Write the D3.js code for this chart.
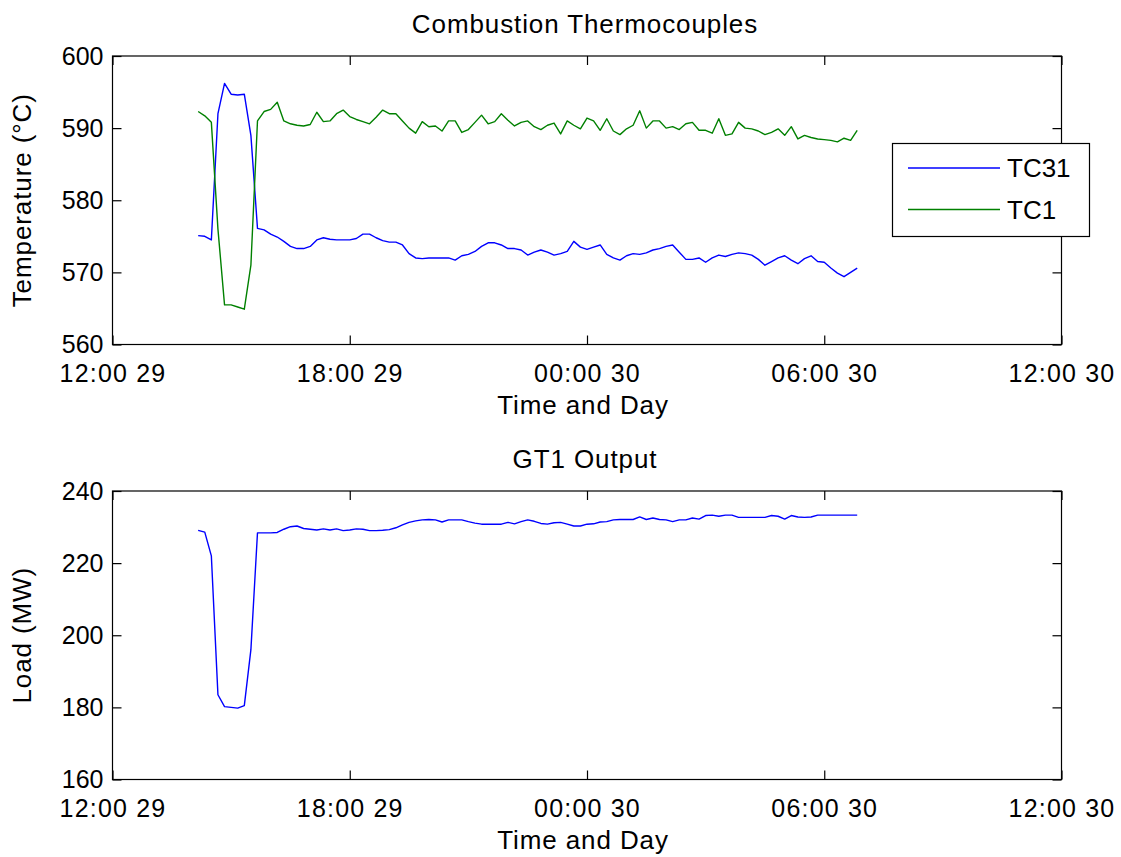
<!DOCTYPE html>
<html>
<head>
<meta charset="utf-8">
<script src="https://cdn.jsdelivr.net/npm/d3@7"></script>
<style>
  html, body { margin: 0; padding: 0; background: #fff; }
  svg text { font-family: "Liberation Sans", Arial, Helvetica, sans-serif; fill: #000; }
</style>
</head>
<body>
<svg id="fig" width="1121" height="857"></svg>
<script>
// Sampling: one reading every 10 minutes, 14:10 on the 29th to 06:50 on the 30th
const sampleStart = new Date(2011, 5, 29, 14, 10);
const sampleEnd = new Date(2011, 5, 30, 6, 50);
const sampleStepMinutes = 10;

// Time axis extent and tick positions
const axisStart = new Date(2011, 5, 29, 12, 0);
const axisEnd = new Date(2011, 5, 30, 12, 0);
const tickHours = 6;

// Combustion thermocouple readings (°C)
const tc31 = [
  575.1, 575.0, 574.5, 592.0, 596.2, 594.7, 594.6, 594.7, 589.0, 576.1,
  575.9, 575.3, 574.9, 574.3, 573.6, 573.3, 573.3, 573.6, 574.5, 574.8,
  574.6, 574.5, 574.5, 574.5, 574.7, 575.3, 575.3, 574.8, 574.4, 574.2,
  574.2, 573.8, 572.6, 572.0, 571.9, 572.0, 572.0, 572.0, 572.0, 571.7,
  572.3, 572.5, 572.9, 573.6, 574.1, 574.1, 573.8, 573.3, 573.3, 573.1,
  572.4, 572.8, 573.1, 572.8, 572.4, 572.6, 572.9, 574.3, 573.5, 573.2,
  573.5, 573.8, 572.5, 572.0, 571.7, 572.3, 572.6, 572.5, 572.7, 573.1,
  573.3, 573.6, 573.8, 572.8, 571.8, 571.8, 572.0, 571.4, 572.0, 572.4,
  572.2, 572.5, 572.7, 572.6, 572.4, 571.8, 571.0, 571.5, 572.0, 572.3,
  571.7, 571.2, 571.9, 572.3, 571.5, 571.4, 570.6, 569.9, 569.4, 570.0,
  570.6
];
const tc1 = [
  592.3, 591.7, 590.8, 576.0, 565.5, 565.5, 565.2, 564.9, 571.0, 591.0,
  592.3, 592.6, 593.6, 591.0, 590.6, 590.4, 590.3, 590.5, 592.2, 590.9,
  591.0, 592.0, 592.5, 591.6, 591.2, 590.9, 590.6, 591.5, 592.5, 592.0,
  592.0, 591.0, 590.0, 589.3, 590.9, 590.2, 590.3, 589.6, 591.0, 591.0,
  589.4, 589.8, 590.8, 591.8, 590.6, 590.9, 592.0, 591.1, 590.3, 590.8,
  591.0, 590.2, 589.8, 590.4, 590.7, 589.2, 591.0, 590.4, 589.9, 591.4,
  591.0, 589.7, 591.3, 589.6, 589.1, 589.9, 590.4, 592.4, 590.0, 591.0,
  591.0, 590.0, 590.2, 589.8, 590.6, 590.8, 589.7, 589.7, 589.3, 591.3,
  589.0, 589.2, 590.8, 590.0, 589.9, 589.6, 589.1, 589.4, 589.9, 589.0,
  590.2, 588.5, 589.0, 588.7, 588.5, 588.4, 588.3, 588.1, 588.6, 588.3,
  589.7
];

// GT1 electrical output (MW)
const gt1Load = [
  229.1, 228.6, 222.0, 183.5, 180.2, 180.0, 179.8, 180.5, 196.0, 228.4,
  228.4, 228.4, 228.5, 229.4, 230.1, 230.3, 229.6, 229.4, 229.2, 229.5,
  229.2, 229.5, 229.0, 229.2, 229.5, 229.4, 229.0, 229.0, 229.1, 229.3,
  229.8, 230.6, 231.3, 231.7, 232.0, 232.1, 232.0, 231.4, 232.0, 232.0,
  232.0, 231.5, 231.1, 230.8, 230.8, 230.8, 230.8, 231.3, 230.9, 231.5,
  232.0, 231.6, 231.0, 230.8, 231.2, 231.3, 230.8, 230.3, 230.3, 230.8,
  230.9, 231.4, 231.5, 232.0, 232.1, 232.1, 232.1, 232.8, 232.1, 232.5,
  232.1, 232.0, 231.5, 232.0, 232.0, 232.5, 232.2, 233.2, 233.3, 233.0,
  233.3, 233.3, 232.7, 232.7, 232.7, 232.7, 232.7, 233.2, 233.0, 232.2,
  233.2, 232.8, 232.7, 232.8, 233.3, 233.3, 233.3, 233.3, 233.3, 233.3,
  233.3
];

// Axis settings
const tempDomain = [560, 600];
const tempTicks = [560, 570, 580, 590, 600];
const loadDomain = [160, 240];
const loadTicks = [160, 180, 200, 220, 240];

const seriesTop = [
  { name: "TC31", values: tc31, color: "#0000ff" },
  { name: "TC1", values: tc1, color: "#008000" }
];

const times = d3.timeMinute.every(sampleStepMinutes).range(sampleStart, d3.timeMinute.offset(sampleEnd, 1));

const svg = d3.select("#fig");
const left = 112.5, right = 1061.5;
const fontSize = 26;
const tickFontSize = 25;
const spacing = "0.9px";
const tickLen = 9;

const x = d3.scaleTime().domain([axisStart, axisEnd]).range([left, right]);
const xTickValues = d3.timeHour.every(tickHours).range(axisStart, d3.timeMinute.offset(axisEnd, 1));
const fmt = d3.timeFormat("%H:%M %d");

function panel(top, bottom, domain, ticks, title, ylabel, series) {
  const y = d3.scaleLinear().domain(domain).range([bottom, top]);
  const g = svg.append("g");

  // plotted lines
  const line = d3.line().x((d, i) => x(times[i])).y(d => y(d));
  series.forEach(s => {
    g.append("path")
      .datum(s.values)
      .attr("fill", "none")
      .attr("stroke", s.color)
      .attr("stroke-width", 1.4)
      .attr("stroke-linejoin", "round")
      .attr("d", line);
  });

  // inward ticks on all four sides
  const axB = g.append("g").attr("transform", `translate(0,${bottom})`)
    .call(d3.axisBottom(x).tickValues(xTickValues).tickFormat(fmt).tickSize(-tickLen).tickPadding(20));
  const axT = g.append("g").attr("transform", `translate(0,${top})`)
    .call(d3.axisTop(x).tickValues(xTickValues).tickFormat("").tickSize(-tickLen));
  const axL = g.append("g").attr("transform", `translate(${left},0)`)
    .call(d3.axisLeft(y).tickValues(ticks).tickFormat(d3.format("d")).tickSize(-tickLen).tickPadding(9));
  const axR = g.append("g").attr("transform", `translate(${right},0)`)
    .call(d3.axisRight(y).tickValues(ticks).tickFormat("").tickSize(-tickLen));
  [axB, axT, axL, axR].forEach(a => {
    a.select(".domain").remove();
    a.selectAll(".tick line").attr("stroke", "#000").attr("stroke-width", 1.2);
    a.selectAll("text").style("font-size", tickFontSize + "px").attr("fill", "#000")
      .style("font-family", '"Liberation Sans", Arial, sans-serif');
  });
  axB.selectAll("text").attr("dy", "0.71em").style("letter-spacing", "1.2px");

  // frame
  g.append("rect")
    .attr("x", left).attr("y", top)
    .attr("width", right - left).attr("height", bottom - top)
    .attr("fill", "none").attr("stroke", "#000").attr("stroke-width", 1.2);

  // titles
  g.append("text").attr("x", (left + right) / 2 - 2).attr("y", top - 23)
    .attr("text-anchor", "middle").style("font-size", fontSize + "px")
    .style("letter-spacing", spacing).text(title);
  g.append("text").attr("x", (left + right) / 2 - 4).attr("y", bottom + 69)
    .attr("text-anchor", "middle").style("font-size", fontSize + "px")
    .style("letter-spacing", spacing).text("Time and Day");
  g.append("text")
    .attr("transform", `translate(31,${(top + bottom) / 2}) rotate(-90)`)
    .attr("text-anchor", "middle").style("font-size", fontSize + "px")
    .style("letter-spacing", spacing).text(ylabel);

  return { g, y };
}

panel(56, 344.5, tempDomain, tempTicks, "Combustion Thermocouples", "Temperature (°C)", seriesTop);
panel(491, 779.5, loadDomain, loadTicks, "GT1 Output", "Load (MW)", [{ name: "GT1", values: gt1Load, color: "#0000ff" }]);

// legend for the thermocouple panel
const leg = svg.append("g");
leg.append("rect").attr("x", 892.5).attr("y", 143.5).attr("width", 197).attr("height", 93)
  .attr("fill", "#fff").attr("stroke", "#000").attr("stroke-width", 1.2);
seriesTop.forEach((s, i) => {
  const ly = 168 + i * 41.5;
  leg.append("line").attr("x1", 908).attr("x2", 1000).attr("y1", ly).attr("y2", ly)
    .attr("stroke", s.color).attr("stroke-width", 1.4);
  leg.append("text").attr("x", 1007).attr("y", ly).attr("dy", "0.36em")
    .style("font-size", fontSize + "px").text(s.name);
});
</script>
</body>
</html>
